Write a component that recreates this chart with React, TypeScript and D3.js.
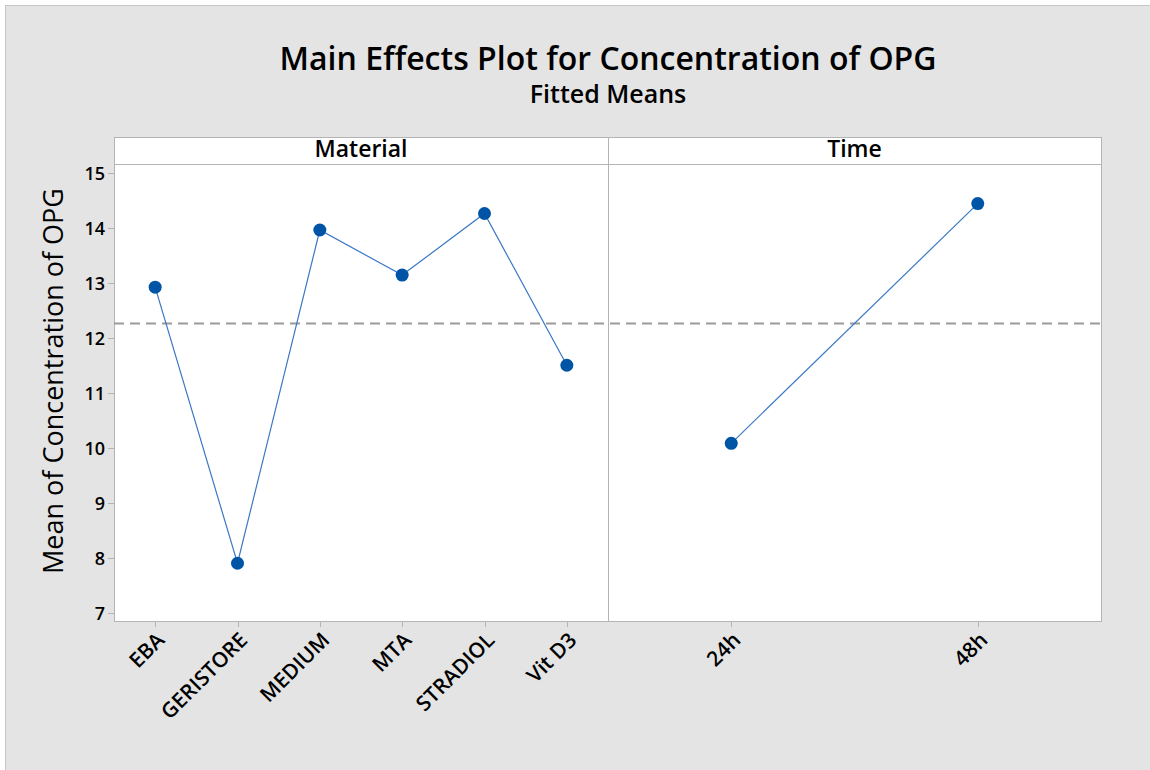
import React from 'react'
import * as d3 from 'd3'

// fitted means
const materials = ['EBA', 'GERISTORE', 'MEDIUM', 'MTA', 'STRADIOL', 'Vit D3']
const materialMeans = [12.93, 7.91, 13.97, 13.15, 14.27, 11.51]
const times = ['24h', '48h']
const timeMeans = [10.09, 14.45]
const grandMean = 12.27
const yTicks = [7, 8, 9, 10, 11, 12, 13, 14, 15]

const W = 1150
const H = 770
const left = 114
const split = 608
const right = 1101
const frameTop = 137
const plotTop = 164
const plotBottom = 621

const font = "'Open Sans', 'Noto Sans', sans-serif"
const blue = '#0054a6'

export default function App() {
  const y = d3.scaleLinear().domain([6.86, 15.17]).range([plotBottom, plotTop])
  const xMat = d3.scalePoint<string>().domain(materials).range([left, split]).padding(0.5)
  const xTime = d3.scalePoint<string>().domain(times).range([split, right]).padding(0.5)

  const line = d3.line<[number, number]>().x(d => d[0]).y(d => d[1])
  const matPts: [number, number][] = materials.map((m, i) => [xMat(m)!, y(materialMeans[i])])
  const timePts: [number, number][] = times.map((t, i) => [xTime(t)!, y(timeMeans[i])])

  const panels = [
    { name: 'Material', x0: left, x1: split, cats: materials, sc: xMat, pts: matPts },
    { name: 'Time', x0: split, x1: right, cats: times, sc: xTime, pts: timePts },
  ]

  return (
    <svg width={W} height={H} style={{ position: 'absolute', left: 0, top: 0, fontFamily: font }}>
      <rect x={0} y={0} width={W} height={H} fill="#fff" />
      <rect x={5.5} y={5.5} width={W} height={H} fill="#e4e4e4" stroke="#c6c6c6" />

      <text x={608} y={70} textAnchor="middle" fontSize={32} fontWeight={600} fill="#000">
        Main Effects Plot for Concentration of OPG
      </text>
      <text x={608} y={103} textAnchor="middle" fontSize={25} fontWeight={600} fill="#000">
        Fitted Means
      </text>

      {/* plot frame */}
      <rect x={left + 0.5} y={frameTop + 0.5} width={right - left} height={plotBottom - frameTop} fill="#fff" stroke="#b4b4b4" />
      <line x1={left} x2={right} y1={plotTop + 0.5} y2={plotTop + 0.5} stroke="#b4b4b4" />
      <line x1={split + 0.5} x2={split + 0.5} y1={frameTop} y2={plotBottom} stroke="#b4b4b4" />

      {/* y axis */}
      {yTicks.map(t => (
        <g key={t} transform={`translate(0,${Math.round(y(t)) + 0.5})`}>
          <line x1={left - 6} x2={left} stroke="#b4b4b4" />
          <text x={left - 9} dy="0.36em" textAnchor="end" fontSize={18} fontWeight={600} fill="#000">{t}</text>
        </g>
      ))}
      <text transform={`translate(63,${(frameTop + plotBottom) / 2 + 2}) rotate(-90)`} textAnchor="middle" fontSize={27} fill="#000">
        Mean of Concentration of OPG
      </text>

      {/* grand mean reference */}
      <line x1={left} x2={right} y1={y(grandMean)} y2={y(grandMean)} stroke="#9a9a9a" strokeWidth={2} strokeDasharray="10 6" />

      {panels.map(p => (
        <g key={p.name}>
          <text x={(p.x0 + p.x1) / 2} y={157} textAnchor="middle" fontSize={23} fontWeight={600} fill="#000">{p.name}</text>
          {p.cats.map(c => (
            <g key={c} transform={`translate(${Math.round(p.sc(c)!) + 0.5},${plotBottom + 1})`}>
              <line y1={0} y2={5} stroke="#b4b4b4" />
              <text transform="translate(0,9) rotate(-45)" textAnchor="end" dy="0.7em" fontSize={21} fontWeight={600} fill="#000">{c}</text>
            </g>
          ))}
          <path d={line(p.pts)!} fill="none" stroke="#3a78c4" strokeWidth={1.2} />
          {p.pts.map((d, i) => (
            <circle key={i} cx={d[0]} cy={d[1]} r={6.5} fill={blue} />
          ))}
        </g>
      ))}
    </svg>
  )
}
